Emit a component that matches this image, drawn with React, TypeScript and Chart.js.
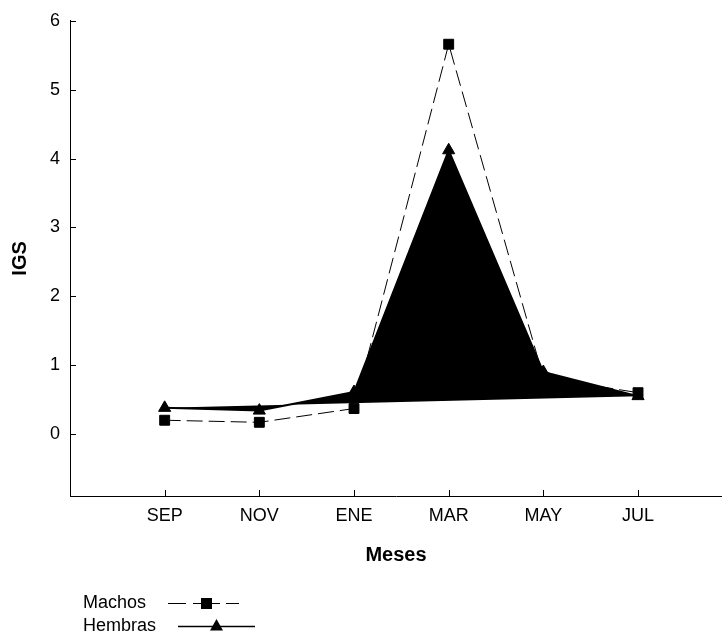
import React, { useEffect, useRef } from 'react';
import { Chart, registerables } from 'chart.js';

Chart.register(...registerables);

const months = ['SEP', 'NOV', 'ENE', 'MAR', 'MAY', 'JUL'];
const machos = [0.2, 0.17, 0.37, 5.66, 0.82, 0.6];
const hembras = [0.38, 0.34, 0.61, 4.12, 0.9, 0.55];
const yTicks = [0, 1, 2, 3, 4, 5, 6];
const seriesNames = ['Machos', 'Hembras'];

const FONT = '"Liberation Sans", Arial, Helvetica, sans-serif';

export default function App() {
  const ref = useRef<HTMLCanvasElement>(null);

  useEffect(() => {
    const canvas = ref.current;
    if (!canvas) return;

    const inwardTicks = {
      id: 'inwardTicks',
      afterDraw(chart: any) {
        const c = chart.ctx;
        const xs = chart.scales.x;
        const ys = chart.scales.y;
        c.save();
        c.strokeStyle = '#000';
        c.lineWidth = 1;
        c.beginPath();
        xs.ticks.forEach((t: any) => {
          const px = Math.round(xs.getPixelForValue(t.value)) + 0.5;
          c.moveTo(px, xs.top);
          c.lineTo(px, xs.top - 6);
        });
        ys.ticks.forEach((t: any) => {
          const py = Math.round(ys.getPixelForValue(t.value)) + 0.5;
          c.moveTo(ys.right, py);
          c.lineTo(ys.right + 6, py);
        });
        c.stroke();
        c.restore();
      },
    };

    const bottomLegend = {
      id: 'bottomLegend',
      afterDraw(chart: any) {
        const c = chart.ctx;
        c.save();
        c.fillStyle = '#000';
        c.strokeStyle = '#000';
        c.font = `18px ${FONT}`;
        c.textBaseline = 'middle';
        c.textAlign = 'left';
        const ds = chart.data.datasets;
        // Machos row
        const y1 = 603;
        c.fillText(ds[0].label, 83, y1);
        c.lineWidth = 1;
        c.beginPath();
        c.moveTo(168, y1 + 0.5);
        c.lineTo(186, y1 + 0.5);
        c.moveTo(193, y1 + 0.5);
        c.lineTo(220, y1 + 0.5);
        c.moveTo(226, y1 + 0.5);
        c.lineTo(239, y1 + 0.5);
        c.stroke();
        c.fillRect(201, y1 - 5, 11, 11);
        // Hembras row
        const y2 = 626;
        c.fillText(ds[1].label, 83, y2);
        c.lineWidth = 1.5;
        c.beginPath();
        c.moveTo(178, y2 + 0.5);
        c.lineTo(255, y2 + 0.5);
        c.stroke();
        c.beginPath();
        c.moveTo(216.5, y2 - 7);
        c.lineTo(223, y2 + 4.5);
        c.lineTo(210, y2 + 4.5);
        c.closePath();
        c.fill();
        c.restore();
      },
    };

    const chart = new Chart(canvas, {
      type: 'line',
      data: {
        datasets: [
          {
            label: seriesNames[0],
            data: machos.map((v, i) => ({ x: i + 1, y: v })),
            borderColor: '#000',
            backgroundColor: '#000',
            borderWidth: 1,
            borderDash: [16, 6],
            pointStyle: 'rect',
            pointRadius: 7,
            pointBorderWidth: 1,
            pointBackgroundColor: '#000',
            pointBorderColor: '#000',
            fill: false,
            tension: 0,
            order: 1,
          },
          {
            label: seriesNames[1],
            data: hembras.map((v, i) => ({ x: i + 1, y: v })),
            borderColor: '#000',
            backgroundColor: '#000',
            borderWidth: 2,
            pointStyle: 'triangle',
            pointRadius: 7,
            pointBorderWidth: 1,
            pointBackgroundColor: '#000',
            pointBorderColor: '#000',
            fill: 'shape',
            tension: 0,
            order: 2,
          },
        ],
      },
      options: {
        animation: false,
        responsive: false,
        devicePixelRatio: 1,
        layout: { autoPadding: false, padding: { top: 20, left: 0, right: 0, bottom: 0 } },
        plugins: {
          legend: { display: false },
          tooltip: { enabled: false },
        },
        scales: {
          x: {
            type: 'linear',
            min: 0,
            max: 6.887,
            grid: { display: false, drawTicks: false },
            border: { display: true, color: '#000', width: 1 },
            afterBuildTicks: (scale: any) => {
              scale.ticks = months.map((_, i) => ({ value: i + 1 }));
            },
            afterFit: (scale: any) => {
              scale.height = 138;
              scale.paddingLeft = 0;
              scale.paddingRight = 0;
            },
            ticks: {
              autoSkip: false,
              maxRotation: 0,
              padding: 9,
              color: '#000',
              font: { family: FONT, size: 18 },
              callback: (v: any) => months[Math.round(Number(v)) - 1] ?? '',
            },
            title: {
              display: true,
              text: 'Meses',
              color: '#000',
              font: { family: FONT, size: 20, weight: 'bold' },
              padding: { top: 0, bottom: 67 },
            },
          },
          y: {
            type: 'linear',
            min: -0.9,
            max: 6,
            grid: { display: false, drawTicks: false },
            border: { display: true, color: '#000', width: 1 },
            afterBuildTicks: (scale: any) => {
              scale.ticks = yTicks.map((v) => ({ value: v }));
            },
            afterFit: (scale: any) => {
              scale.width = 70;
            },
            ticks: {
              padding: 10,
              color: '#000',
              font: { family: FONT, size: 18 },
              callback: (v: any) => String(v),
            },
            title: {
              display: true,
              text: 'IGS',
              color: '#000',
              font: { family: FONT, size: 20, weight: 'bold' },
              padding: { top: 8, bottom: 0 },
            },
          },
        },
      },
      plugins: [inwardTicks, bottomLegend],
    });

    return () => chart.destroy();
  }, []);

  return (
    <div style={{ position: 'absolute', left: 0, top: 0, width: 722, height: 634, background: '#fff' }}>
      <canvas ref={ref} width={722} height={634} style={{ display: 'block' }} />
    </div>
  );
}
